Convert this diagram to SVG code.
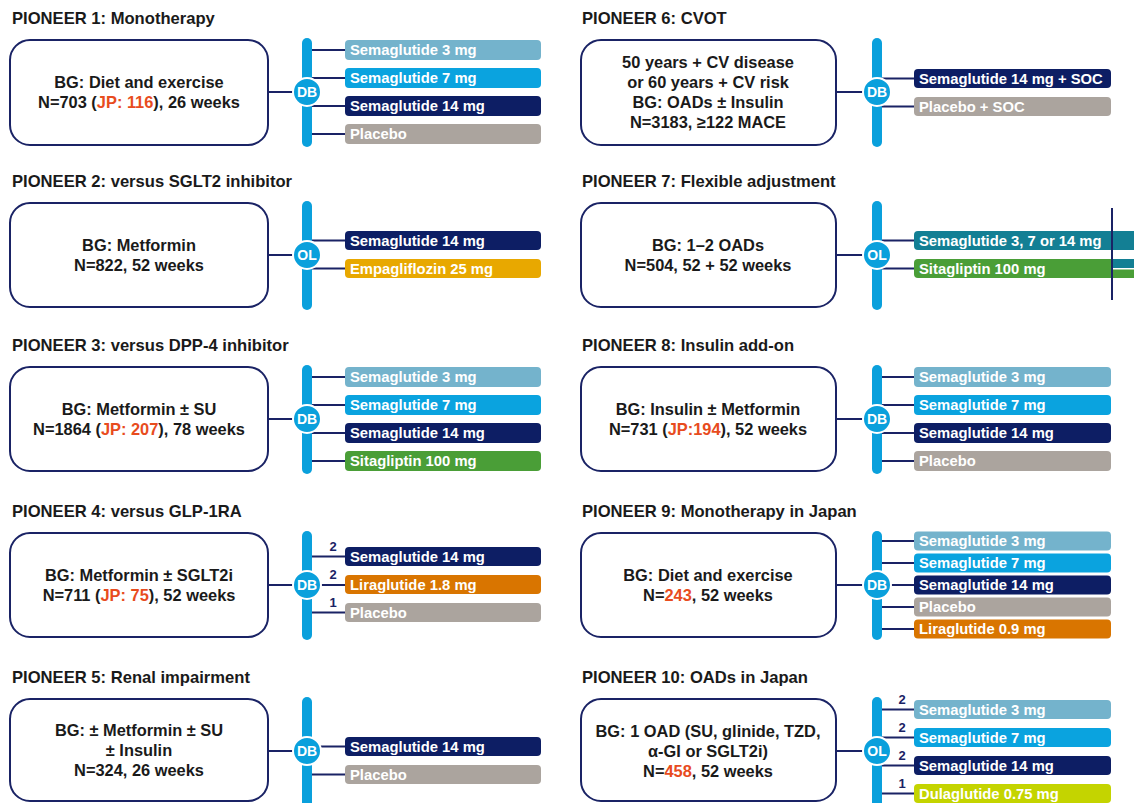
<svg xmlns="http://www.w3.org/2000/svg" width="1134" height="803" viewBox="0 0 1134 803">
<style>
.title{font-family:"Liberation Sans",Arial,sans-serif;font-weight:bold;font-size:16.6px;fill:#1a1a1a}
.bt{font-family:"Liberation Sans",Arial,sans-serif;font-weight:bold;font-size:16.4px;fill:#1a1a1a;text-anchor:middle}
.red{fill:#e84c1e}
.box{fill:#fff;stroke:#1a2365;stroke-width:2}
.vbar{fill:#0aa0dc}
.circ{fill:#0aa0dc;stroke:#fff;stroke-width:2}
.ct{font-family:"Liberation Sans",Arial,sans-serif;font-weight:bold;font-size:14px;fill:#fff;text-anchor:middle}
.at{font-family:"Liberation Sans",Arial,sans-serif;font-weight:bold;font-size:14.8px;fill:#fff}
.num{font-family:"Liberation Sans",Arial,sans-serif;font-weight:bold;font-size:13px;fill:#1a2365;text-anchor:middle}
.ln{stroke:#1a2365;stroke-width:2;fill:none}
.s3{fill:#74b3cc}.s7{fill:#0aa3df}.s14{fill:#0d1e64}.pl{fill:#aba49e}.sit{fill:#4a9e37}.emp{fill:#e8a800}.lir{fill:#d97500}.dul{fill:#c4d400}.teal{fill:#137f94}
</style>

<g id="connectors">
<line class="ln" x1="268" y1="92" x2="307" y2="92"/>
<line class="ln" x1="307" y1="50" x2="346" y2="50"/><line class="ln" x1="307" y1="78" x2="346" y2="78"/><line class="ln" x1="307" y1="106" x2="346" y2="106"/><line class="ln" x1="307" y1="134" x2="346" y2="134"/>
<line class="ln" x1="268" y1="255" x2="307" y2="255"/>
<line class="ln" x1="307" y1="240.5" x2="346" y2="240.5"/><line class="ln" x1="307" y1="268.5" x2="346" y2="268.5"/>
<line class="ln" x1="268" y1="419" x2="307" y2="419"/>
<line class="ln" x1="307" y1="377" x2="346" y2="377"/><line class="ln" x1="307" y1="405" x2="346" y2="405"/><line class="ln" x1="307" y1="433" x2="346" y2="433"/><line class="ln" x1="307" y1="461" x2="346" y2="461"/>
<line class="ln" x1="268" y1="585" x2="307" y2="585"/>
<line class="ln" x1="307" y1="556.5" x2="346" y2="556.5"/><line class="ln" x1="307" y1="585" x2="346" y2="585"/><line class="ln" x1="307" y1="612.5" x2="346" y2="612.5"/>
<line class="ln" x1="268" y1="751" x2="307" y2="751"/>
<line class="ln" x1="307" y1="746.5" x2="346" y2="746.5"/><line class="ln" x1="307" y1="774.5" x2="346" y2="774.5"/>
<line class="ln" x1="836" y1="92" x2="877" y2="92"/>
<line class="ln" x1="877" y1="78.5" x2="915" y2="78.5"/><line class="ln" x1="877" y1="106.5" x2="915" y2="106.5"/>
<line class="ln" x1="836" y1="255" x2="877" y2="255"/>
<line class="ln" x1="877" y1="240.5" x2="915" y2="240.5"/><line class="ln" x1="877" y1="268.5" x2="915" y2="268.5"/>
<line class="ln" x1="836" y1="419" x2="877" y2="419"/>
<line class="ln" x1="877" y1="377" x2="915" y2="377"/><line class="ln" x1="877" y1="405" x2="915" y2="405"/><line class="ln" x1="877" y1="433" x2="915" y2="433"/><line class="ln" x1="877" y1="461" x2="915" y2="461"/>
<line class="ln" x1="836" y1="585" x2="877" y2="585"/>
<line class="ln" x1="877" y1="541" x2="915" y2="541"/><line class="ln" x1="877" y1="563" x2="915" y2="563"/><line class="ln" x1="877" y1="585" x2="915" y2="585"/><line class="ln" x1="877" y1="607" x2="915" y2="607"/><line class="ln" x1="877" y1="629" x2="915" y2="629"/>
<line class="ln" x1="836" y1="751" x2="877" y2="751"/>
<line class="ln" x1="877" y1="709.5" x2="915" y2="709.5"/><line class="ln" x1="877" y1="737.5" x2="915" y2="737.5"/><line class="ln" x1="877" y1="765.5" x2="915" y2="765.5"/><line class="ln" x1="877" y1="793.5" x2="915" y2="793.5"/>
</g>

<g id="pioneer1">
<text class="title" x="12" y="24">PIONEER 1: Monotherapy</text>
<rect class="box" x="10" y="40" width="258" height="105" rx="20"/>
<text class="bt" x="139" y="88">BG: Diet and exercise</text>
<text class="bt" x="139" y="108">N=703 (<tspan class="red">JP: 116</tspan>), 26 weeks</text>
<rect class="vbar" x="302" y="38" width="10" height="109" rx="5"/>
<circle class="circ" cx="307" cy="92" r="14"/><text class="ct" x="307" y="97">DB</text>
<rect class="s3" x="345" y="40" width="196" height="20" rx="4"/><text class="at" x="350" y="55">Semaglutide 3 mg</text>
<rect class="s7" x="345" y="68" width="196" height="20" rx="4"/><text class="at" x="350" y="83">Semaglutide 7 mg</text>
<rect class="s14" x="345" y="96" width="196" height="20" rx="4"/><text class="at" x="350" y="111">Semaglutide 14 mg</text>
<rect class="pl" x="345" y="124" width="196" height="20" rx="4"/><text class="at" x="350" y="139">Placebo</text>
</g>

<g id="pioneer2">
<text class="title" x="12" y="187">PIONEER 2: versus SGLT2 inhibitor</text>
<rect class="box" x="10" y="203" width="258" height="104" rx="20"/>
<text class="bt" x="139" y="251">BG: Metformin</text>
<text class="bt" x="139" y="271">N=822, 52 weeks</text>
<rect class="vbar" x="302" y="201" width="10" height="109" rx="5"/>
<circle class="circ" cx="307" cy="255" r="14"/><text class="ct" x="307" y="260">OL</text>
<rect class="s14" x="345" y="231" width="196" height="19" rx="4"/><text class="at" x="350" y="245.5">Semaglutide 14 mg</text>
<rect class="emp" x="345" y="259" width="196" height="19" rx="4"/><text class="at" x="350" y="273.5">Empagliflozin 25 mg</text>
</g>

<g id="pioneer3">
<text class="title" x="12" y="351">PIONEER 3: versus DPP-4 inhibitor</text>
<rect class="box" x="10" y="367" width="258" height="104" rx="20"/>
<text class="bt" x="139" y="415">BG: Metformin ± SU</text>
<text class="bt" x="139" y="435">N=1864 (<tspan class="red">JP: 207</tspan>), 78 weeks</text>
<rect class="vbar" x="302" y="365" width="10" height="109" rx="5"/>
<circle class="circ" cx="307" cy="419" r="14"/><text class="ct" x="307" y="424">DB</text>
<rect class="s3" x="345" y="367" width="196" height="20" rx="4"/><text class="at" x="350" y="382">Semaglutide 3 mg</text>
<rect class="s7" x="345" y="395" width="196" height="20" rx="4"/><text class="at" x="350" y="410">Semaglutide 7 mg</text>
<rect class="s14" x="345" y="423" width="196" height="20" rx="4"/><text class="at" x="350" y="438">Semaglutide 14 mg</text>
<rect class="sit" x="345" y="451" width="196" height="20" rx="4"/><text class="at" x="350" y="466">Sitagliptin 100 mg</text>
</g>

<g id="pioneer4">
<text class="title" x="12" y="517">PIONEER 4: versus GLP-1RA</text>
<rect class="box" x="10" y="533" width="258" height="104" rx="20"/>
<text class="bt" x="139" y="581">BG: Metformin ± SGLT2i</text>
<text class="bt" x="139" y="601">N=711 (<tspan class="red">JP: 75</tspan>), 52 weeks</text>
<rect class="vbar" x="302" y="531" width="10" height="109" rx="5"/>
<circle class="circ" cx="307" cy="585" r="14"/><text class="ct" x="307" y="590">DB</text>
<text class="num" x="333" y="551">2</text><text class="num" x="333" y="579">2</text><text class="num" x="333" y="607">1</text>
<rect class="s14" x="345" y="547" width="196" height="19" rx="4"/><text class="at" x="350" y="561.5">Semaglutide 14 mg</text>
<rect class="lir" x="345" y="575" width="196" height="19" rx="4"/><text class="at" x="350" y="589.5">Liraglutide 1.8 mg</text>
<rect class="pl" x="345" y="603" width="196" height="19" rx="4"/><text class="at" x="350" y="617.5">Placebo</text>
</g>

<g id="pioneer5">
<text class="title" x="12" y="683">PIONEER 5: Renal impairment</text>
<rect class="box" x="10" y="699" width="258" height="102" rx="20"/>
<text class="bt" x="139" y="736">BG: ± Metformin ± SU</text>
<text class="bt" x="139" y="756">± Insulin</text>
<text class="bt" x="139" y="776">N=324, 26 weeks</text>
<rect class="vbar" x="302" y="697" width="10" height="110" rx="5"/>
<circle class="circ" cx="307" cy="751" r="14"/><text class="ct" x="307" y="756">DB</text>
<rect class="s14" x="345" y="737" width="196" height="19" rx="4"/><text class="at" x="350" y="751.5">Semaglutide 14 mg</text>
<rect class="pl" x="345" y="765" width="196" height="19" rx="4"/><text class="at" x="350" y="779.5">Placebo</text>
</g>

<g id="pioneer6">
<text class="title" x="582" y="24">PIONEER 6: CVOT</text>
<rect class="box" x="581" y="40" width="255" height="105" rx="20"/>
<text class="bt" x="708" y="68">50 years + CV disease</text>
<text class="bt" x="708" y="88">or 60 years + CV risk</text>
<text class="bt" x="708" y="108">BG: OADs ± Insulin</text>
<text class="bt" x="708" y="128">N=3183, ≥122 MACE</text>
<rect class="vbar" x="872" y="38" width="10" height="109" rx="5"/>
<circle class="circ" cx="877" cy="92" r="14"/><text class="ct" x="877" y="97">DB</text>
<rect class="s14" x="914" y="69" width="197" height="19" rx="4"/><text class="at" x="919" y="83.5">Semaglutide 14 mg + SOC</text>
<rect class="pl" x="914" y="97" width="197" height="19" rx="4"/><text class="at" x="919" y="111.5">Placebo + SOC</text>
</g>

<g id="pioneer7">
<text class="title" x="582" y="187">PIONEER 7: Flexible adjustment</text>
<rect class="box" x="581" y="203" width="255" height="104" rx="20"/>
<text class="bt" x="708" y="251">BG: 1–2 OADs</text>
<text class="bt" x="708" y="271">N=504, 52 + 52 weeks</text>
<rect class="vbar" x="872" y="201" width="10" height="109" rx="5"/>
<circle class="circ" cx="877" cy="255" r="14"/><text class="ct" x="877" y="260">OL</text>
<rect class="teal" x="914" y="231" width="224" height="19" rx="4"/><text class="at" x="919" y="245.5">Semaglutide 3, 7 or 14 mg</text>
<rect class="sit" x="914" y="259" width="224" height="19" rx="4"/><text class="at" x="919" y="273.5">Sitagliptin 100 mg</text>
<rect class="teal" x="1112" y="259" width="22" height="9"/>
<rect fill="#fff" x="1112" y="268" width="22" height="1.5"/>
<line x1="1112" y1="208" x2="1112" y2="300" stroke="#1a2365" stroke-width="2"/>
</g>

<g id="pioneer8">
<text class="title" x="582" y="351">PIONEER 8: Insulin add-on</text>
<rect class="box" x="581" y="367" width="255" height="104" rx="20"/>
<text class="bt" x="708" y="415">BG: Insulin ± Metformin</text>
<text class="bt" x="708" y="435">N=731 (<tspan class="red">JP:194</tspan>), 52 weeks</text>
<rect class="vbar" x="872" y="365" width="10" height="109" rx="5"/>
<circle class="circ" cx="877" cy="419" r="14"/><text class="ct" x="877" y="424">DB</text>
<rect class="s3" x="914" y="367" width="197" height="20" rx="4"/><text class="at" x="919" y="382">Semaglutide 3 mg</text>
<rect class="s7" x="914" y="395" width="197" height="20" rx="4"/><text class="at" x="919" y="410">Semaglutide 7 mg</text>
<rect class="s14" x="914" y="423" width="197" height="20" rx="4"/><text class="at" x="919" y="438">Semaglutide 14 mg</text>
<rect class="pl" x="914" y="451" width="197" height="20" rx="4"/><text class="at" x="919" y="466">Placebo</text>
</g>

<g id="pioneer9">
<text class="title" x="582" y="517">PIONEER 9: Monotherapy in Japan</text>
<rect class="box" x="581" y="533" width="255" height="104" rx="20"/>
<text class="bt" x="708" y="581">BG: Diet and exercise</text>
<text class="bt" x="708" y="601">N=<tspan class="red">243</tspan>, 52 weeks</text>
<rect class="vbar" x="872" y="531" width="10" height="109" rx="5"/>
<circle class="circ" cx="877" cy="585" r="14"/><text class="ct" x="877" y="590">DB</text>
<rect class="s3" x="914" y="531.5" width="197" height="19" rx="4"/><text class="at" x="919" y="546">Semaglutide 3 mg</text>
<rect class="s7" x="914" y="553.5" width="197" height="19" rx="4"/><text class="at" x="919" y="568">Semaglutide 7 mg</text>
<rect class="s14" x="914" y="575.5" width="197" height="19" rx="4"/><text class="at" x="919" y="590">Semaglutide 14 mg</text>
<rect class="pl" x="914" y="597.5" width="197" height="19" rx="4"/><text class="at" x="919" y="612">Placebo</text>
<rect class="lir" x="914" y="619.5" width="197" height="19" rx="4"/><text class="at" x="919" y="634">Liraglutide 0.9 mg</text>
</g>

<g id="pioneer10">
<text class="title" x="582" y="683">PIONEER 10: OADs in Japan</text>
<rect class="box" x="581" y="699" width="255" height="102" rx="20"/>
<text class="bt" x="708" y="737">BG: 1 OAD (SU, glinide, TZD,</text>
<text class="bt" x="708" y="757">α-GI or SGLT2i)</text>
<text class="bt" x="708" y="777">N=<tspan class="red">458</tspan>, 52 weeks</text>
<rect class="vbar" x="872" y="697" width="10" height="110" rx="5"/>
<circle class="circ" cx="877" cy="751" r="14"/><text class="ct" x="877" y="756">OL</text>
<text class="num" x="902" y="704">2</text><text class="num" x="902" y="732">2</text><text class="num" x="902" y="760">2</text><text class="num" x="902" y="788">1</text>
<rect class="s3" x="914" y="700" width="197" height="19" rx="4"/><text class="at" x="919" y="714.5">Semaglutide 3 mg</text>
<rect class="s7" x="914" y="728" width="197" height="19" rx="4"/><text class="at" x="919" y="742.5">Semaglutide 7 mg</text>
<rect class="s14" x="914" y="756" width="197" height="19" rx="4"/><text class="at" x="919" y="770.5">Semaglutide 14 mg</text>
<rect class="dul" x="914" y="784" width="197" height="19" rx="4"/><text class="at" x="919" y="798.5">Dulaglutide 0.75 mg</text>
</g>
</svg>
